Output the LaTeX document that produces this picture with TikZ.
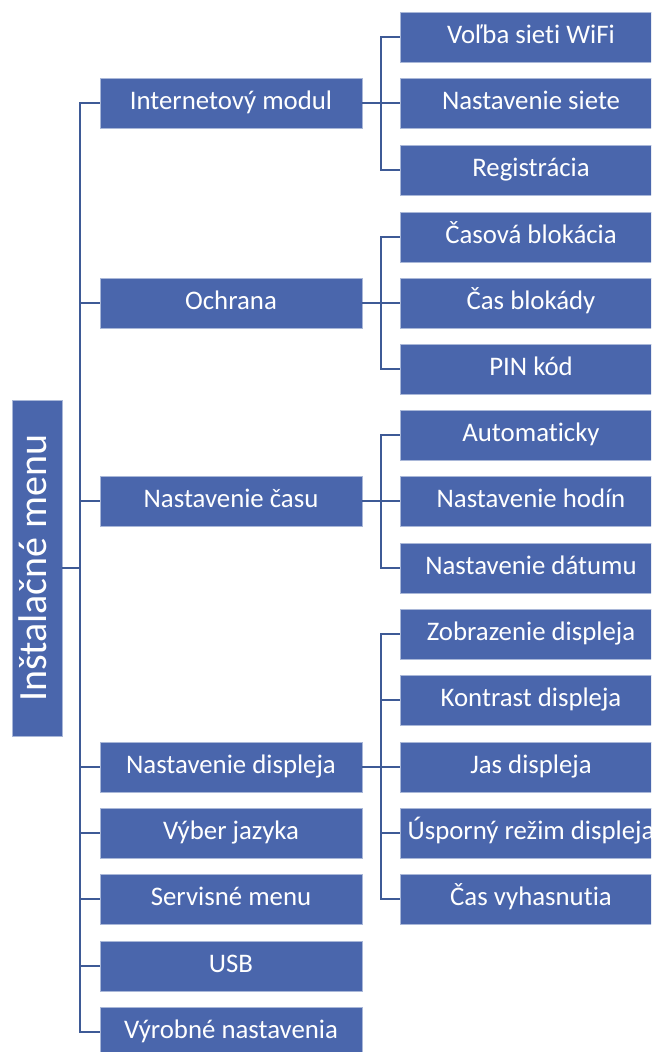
\documentclass[tikz,border=0pt]{standalone}
\usepackage{fontspec}
\setmainfont[Ligatures=NoCommon]{Carlito}
\definecolor{boxfill}{HTML}{4A66AC}
\definecolor{linecol}{HTML}{3E5A96}
\definecolor{boxedge}{HTML}{A9B7D8}
\begin{document}
\begin{tikzpicture}[x=1pt,y=-1pt,
  menubox/.style={draw=boxedge, line width=0.8pt, fill=boxfill, text=white, inner sep=0pt,
    minimum width=262pt, minimum height=50pt, font=\fontsize{26.8}{29}\selectfont,
    text height=17.5pt, text depth=5pt},
  conn/.style={draw=linecol, line width=2.8pt}]
\useasboundingbox (0,0) rectangle (651,1052);
\clip (0,0) rectangle (651,1052);
% root
\node[draw=boxedge, line width=0.8pt, fill=boxfill, text=white, inner sep=0pt,
  minimum width=336pt, minimum height=50pt, rotate=90,
  font=\fontsize{40}{44}\selectfont, text height=27pt, text depth=8pt] (root) at (37,568) {Inštalačné menu};
% level 1
\node[menubox] (a) at (231,103) {Internetový modul};
\node[menubox] (b) at (231,303) {Ochrana};
\node[menubox] (c) at (231,501) {Nastavenie času};
\node[menubox] (d) at (231,767) {Nastavenie displeja};
\node[menubox] (e) at (231,833) {Výber jazyka};
\node[menubox] (f) at (231,899) {Servisné menu};
\node[menubox] (g) at (231,966) {USB};
\node[menubox] (h) at (231,1032) {Výrobné nastavenia};
% level 2
\node[menubox] (a1) at (531,37) {Voľba sieti WiFi};
\node[menubox] (a2) at (531,103) {Nastavenie siete};
\node[menubox] (a3) at (531,170) {Registrácia};
\node[menubox] (b1) at (531,237) {Časová blokácia};
\node[menubox] (b2) at (531,303) {Čas blokády};
\node[menubox] (b3) at (531,369) {PIN kód};
\node[menubox] (c1) at (531,435) {Automaticky};
\node[menubox] (c2) at (531,501) {Nastavenie hodín};
\node[menubox] (c3) at (531,568) {Nastavenie dátumu};
\node[menubox] (d1) at (531,634) {Zobrazenie displeja};
\node[menubox] (d2) at (531,700) {Kontrast displeja};
\node[menubox] (d3) at (531,767) {Jas displeja};
\node[menubox] (d4) at (531,833) {Úsporný režim displeja};
\node[menubox] (d5) at (531,899) {Čas vyhasnutia};
% junctions
\coordinate (rj) at (80,568);
\coordinate (aj) at (381,103);
\coordinate (bj) at (381,303);
\coordinate (cj) at (381,501);
\coordinate (dj) at (381,767);
% connectors
\draw[conn] (root.south) -- (rj);
\foreach \n in {a,b,c,d,e,f,g,h} \draw[conn] (rj) |- (\n.west);
\draw[conn] (a.east) -- (aj);
\foreach \n in {a1,a2,a3} \draw[conn] (aj) |- (\n.west);
\draw[conn] (b.east) -- (bj);
\foreach \n in {b1,b2,b3} \draw[conn] (bj) |- (\n.west);
\draw[conn] (c.east) -- (cj);
\foreach \n in {c1,c2,c3} \draw[conn] (cj) |- (\n.west);
\draw[conn] (d.east) -- (dj);
\foreach \n in {d1,d2,d3,d4,d5} \draw[conn] (dj) |- (\n.west);
\end{tikzpicture}
\end{document}
